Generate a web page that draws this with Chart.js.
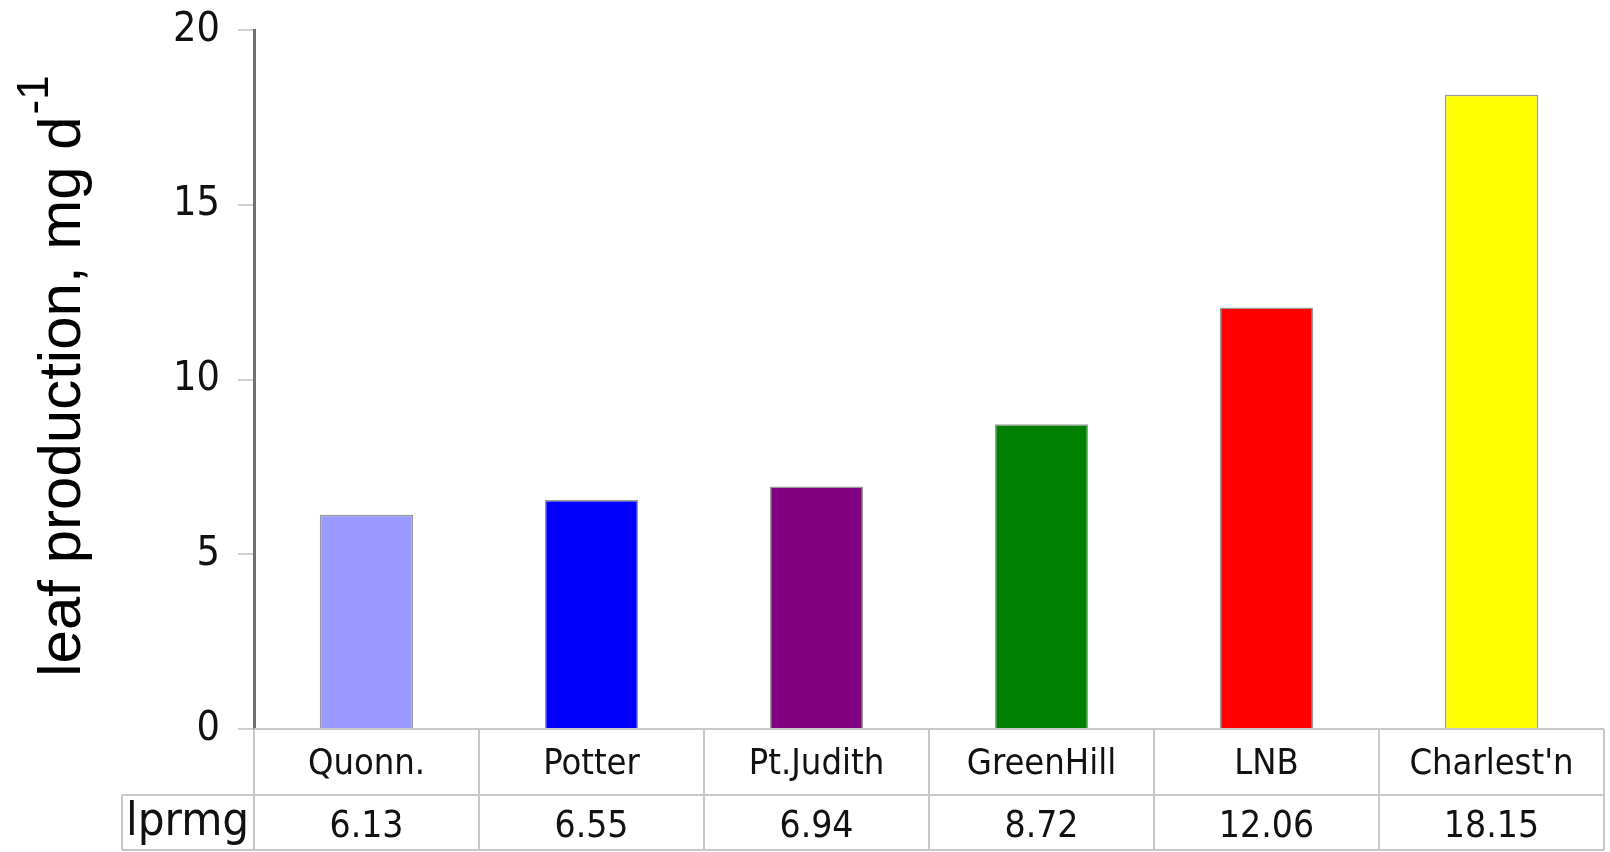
<!DOCTYPE html>
<html><head><meta charset="utf-8">
<script src="https://cdn.jsdelivr.net/npm/chart.js@4/dist/chart.umd.min.js"></script>
<style>html,body{margin:0;padding:0;background:#fff;overflow:hidden}</style>
</head><body>
<canvas id="c" width="1610" height="852"></canvas>
<script>
const categories = ["Quonn.", "Potter", "Pt.Judith", "GreenHill", "LNB", "Charlest'n"];
const lprmg = [6.13, 6.55, 6.94, 8.72, 12.06, 18.15];
const barColors = ["#9999FF", "#0000FF", "#800080", "#008000", "#FF0000", "#FFFF00"];
const seriesName = "lprmg";
const yTicks = [0, 5, 10, 15, 20];
const yTitle = "leaf production, mg d";
const yTitleSup = "-1";

const tablePlugin = {
  id: 'tablePlugin',
  afterDraw(chart) {
    const ctx = chart.ctx;
    const xs = chart.scales.x;
    const ca = chart.chartArea;
    const n = categories.length;
    const w = (xs.right - xs.left) / n;
    const y0 = ca.bottom, y1 = y0 + 66, y2 = 850;
    const leftCell = 122;
    ctx.save();
    ctx.strokeStyle = '#c8c8c8';
    ctx.lineWidth = 2;
    ctx.beginPath();
    ctx.moveTo(xs.left, y0); ctx.lineTo(xs.right, y0);
    ctx.moveTo(leftCell, y1); ctx.lineTo(xs.right, y1);
    ctx.moveTo(leftCell, y2); ctx.lineTo(xs.right, y2);
    for (let i = 0; i <= n; i++) {
      const x = xs.left + i * w;
      ctx.moveTo(x, y0); ctx.lineTo(x, y2);
    }
    ctx.moveTo(leftCell, y1); ctx.lineTo(leftCell, y2);
    ctx.stroke();
    ctx.fillStyle = '#111';
    ctx.textAlign = 'center';
    ctx.textBaseline = 'middle';
    ctx.font = '36px "DejaVu Sans Condensed", "DejaVu Sans", sans-serif';
    categories.forEach((c, i) => {
      ctx.fillText(c, xs.getPixelForValue(i), y0 + 36);
    });
    ctx.font = '37px "DejaVu Sans Condensed", "DejaVu Sans", sans-serif';
    lprmg.forEach((v, i) => {
      ctx.fillText(v.toFixed(2), xs.getPixelForValue(i), y1 + 32);
    });
    ctx.textAlign = 'left';
    ctx.font = '47px "DejaVu Sans Condensed", "DejaVu Sans", sans-serif';
    ctx.fillText(seriesName, leftCell + 4, y1 + 28);

    // Y title with superscript
    ctx.translate(80, 376);
    ctx.rotate(-Math.PI / 2);
    ctx.textBaseline = 'alphabetic';
    const mainFont = '60px "Liberation Sans", Arial, sans-serif';
    const supFont = '44px "Liberation Sans", Arial, sans-serif';
    ctx.font = mainFont;
    const wMain = ctx.measureText(yTitle).width;
    ctx.font = supFont;
    const wSup = ctx.measureText(yTitleSup).width;
    const total = wMain + wSup + 2;
    let x = -total / 2;
    ctx.font = mainFont;
    ctx.fillStyle = '#000';
    ctx.fillText(yTitle, x, 0);
    ctx.font = supFont;
    ctx.fillText(yTitleSup, x + wMain + 2, -32);
    ctx.restore();
  }
};

new Chart(document.getElementById('c'), {
  type: 'bar',
  data: {
    labels: categories,
    datasets: [{
      label: seriesName,
      data: lprmg,
      backgroundColor: barColors,
      borderColor: 'rgba(70,70,70,0.55)',
      borderWidth: 1.5,
      categoryPercentage: 1.0,
      barPercentage: 0.415
    }]
  },
  options: {
    responsive: false,
    devicePixelRatio: 1,
    animation: false,
    layout: { padding: { top: 30, bottom: 123, left: 0, right: 6 } },
    plugins: { legend: { display: false }, tooltip: { enabled: false } },
    scales: {
      x: { display: false, offset: true },
      y: {
        min: 0, max: 20,
        afterBuildTicks: s => { s.ticks = yTicks.map(v => ({ value: v })); },
        afterFit: s => { s.width = 254; s.paddingTop = 0; s.paddingBottom = 0; },
        ticks: {
          color: '#111',
          padding: 18,
          font: { family: '"DejaVu Sans Condensed", "DejaVu Sans", sans-serif', size: 41 }
        },
        grid: { drawOnChartArea: false, drawTicks: true, tickLength: 16, color: '#d0d0d0', lineWidth: 2 },
        border: { display: true, color: '#707070', width: 3 }
      }
    }
  },
  plugins: [tablePlugin]
});
</script>
</body></html>
